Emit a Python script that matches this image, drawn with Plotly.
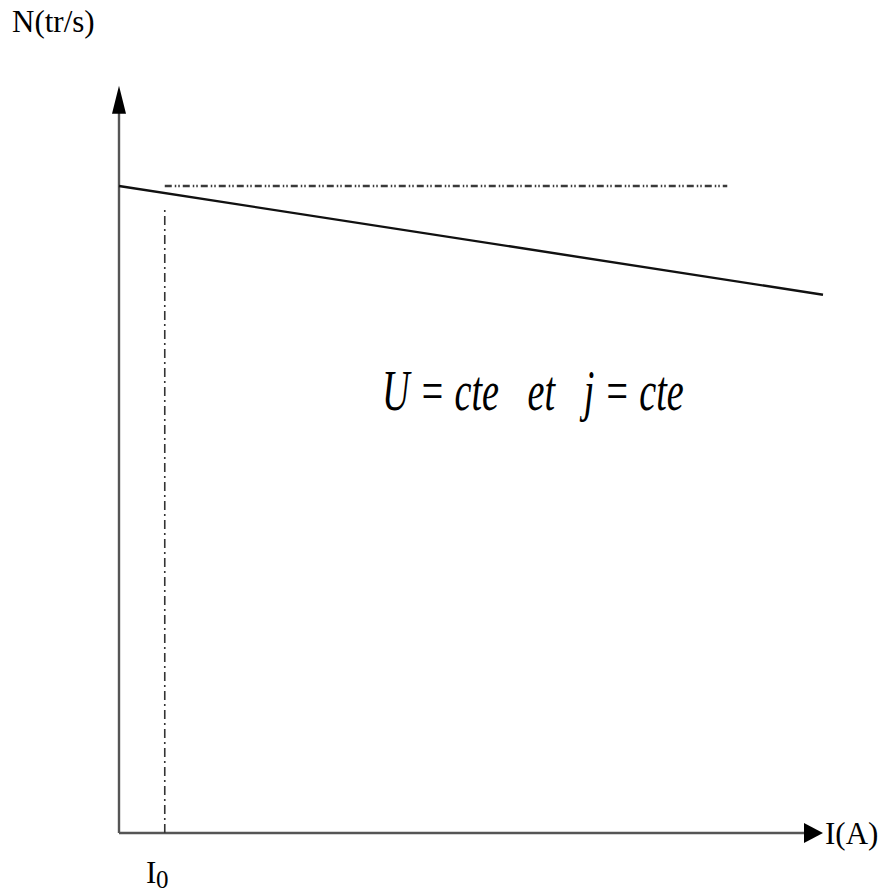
import plotly.graph_objects as go

# Characteristic N = f(I) of the motor (arbitrary units)
I_curve = [0.0, 10.0]
N_curve = [10.0, 8.32]

# No-load current and reference speed
I0 = 0.65
N_ref = 10.0
I_ref_end = 8.64
N_I0_top = 9.63

# Axis extents (arrow tips)
I_axis_max = 10.0
N_axis_max = 11.55

# Pixel scale of the drawing (px per unit) and origin position
W, H = 880, 892
X0_PX, Y0_PX = 119, 833
SX, SY = 70.4, 64.7

x_range = [-X0_PX / SX, (W - X0_PX) / SX]
y_range = [-(H - Y0_PX) / SY, Y0_PX / SY]

AXIS_COLOR = "#555555"
FONT = "Liberation Serif"

fig = go.Figure()

# Axes lines
fig.add_trace(go.Scatter(x=[0, I_axis_max - 19 / SX], y=[0, 0], mode="lines",
                         line=dict(color=AXIS_COLOR, width=2.4), hoverinfo="skip"))
fig.add_trace(go.Scatter(x=[0, 0], y=[0, N_axis_max - 26 / SY], mode="lines",
                         line=dict(color=AXIS_COLOR, width=2.4), hoverinfo="skip"))

# Reference speed (dash-dot) and no-load current marker
fig.add_trace(go.Scatter(x=[I0, I_ref_end], y=[N_ref, N_ref], mode="lines",
                         line=dict(color="#3a3a3a", width=2.6, dash="7px,3px,1.5px,2px,1.5px,3px"),
                         hoverinfo="skip"))
fig.add_trace(go.Scatter(x=[I0, I0], y=[0, N_I0_top], mode="lines",
                         line=dict(color="#333333", width=1.6, dash="9px,4px,2px,4px"),
                         hoverinfo="skip"))

# Characteristic
fig.add_trace(go.Scatter(x=I_curve, y=N_curve, mode="lines",
                         line=dict(color="#111111", width=2.4), hoverinfo="skip"))

# Arrow heads for the two axes
def tri(tip_x, tip_y, horizontal, length, half_w):
    # triangle in data units, sizes given in px
    if horizontal:
        bx = tip_x - length / SX
        return f"M {tip_x},{tip_y} L {bx},{tip_y + half_w / SY} L {bx},{tip_y - half_w / SY} Z"
    by = tip_y - length / SY
    return f"M {tip_x},{tip_y} L {tip_x - half_w / SX},{by} L {tip_x + half_w / SX},{by} Z"

shapes = [
    dict(type="path", path=tri(I_axis_max, 0, True, 19, 10), xref="x", yref="y",
         fillcolor="black", line=dict(width=0)),
    dict(type="path", path=tri(0, N_axis_max, False, 28, 7), xref="x", yref="y",
         fillcolor="black", line=dict(width=0)),
]

def px(x):
    return x / W

def py(y):
    return 1 - y / H

def label(text, x, y, size, italic=False):
    return dict(text=f"<i>{text}</i>" if italic else text,
                x=px(x), y=py(y), xref="paper", yref="paper",
                xanchor="left", yanchor="middle", showarrow=False,
                font=dict(family=FONT, size=size, color="black"))

annotations = [
    label("N(tr/s)", 10, 22, 31),
    label("I(A)", 823, 833, 31),
    label("I", 144, 872, 31),
    label("0", 154, 879, 25),
    label("U = cte   et   j = cte", 380, 390, 57, italic=True),
]

fig.update_layout(
    width=W, height=H,
    margin=dict(l=0, r=0, t=0, b=0),
    paper_bgcolor="white", plot_bgcolor="white",
    showlegend=False,
    xaxis=dict(range=x_range, visible=False, fixedrange=True),
    yaxis=dict(range=y_range, visible=False, fixedrange=True),
    shapes=shapes,
    annotations=annotations,
)

# Narrow the italic equation text horizontally (condensed equation style)
condense = """
document.querySelectorAll('.annotation-text').forEach(function(t){
  if (t.textContent.indexOf('cte') >= 0) {
    t.style.transformBox = 'fill-box';
    t.style.transformOrigin = '0% 50%';
    t.style.transform = 'scaleX(0.67)';
  }
});
"""

fig.write_html("out.html", post_script=condense, config={"displayModeBar": False})
